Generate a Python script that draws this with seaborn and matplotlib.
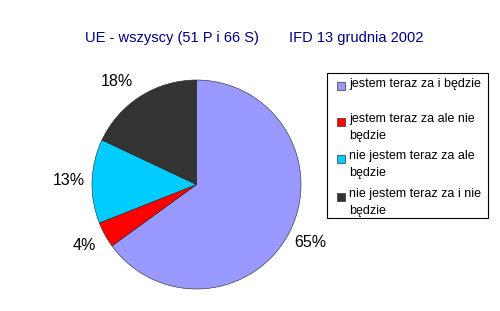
import matplotlib
matplotlib.use("Agg")
import matplotlib.pyplot as plt
from matplotlib.patches import Rectangle
import seaborn as sns

categories = ["jestem teraz za i będzie", "jestem teraz za ale nie\nbędzie",
              "nie jestem teraz za ale\nbędzie", "nie jestem teraz za i nie\nbędzie"]
values = [65, 4, 13, 18]
colors = ["#9999FF", "#FF0000", "#00CCFF", "#333333"]
title_left = "UE - wszyscy (51 P i 66 S)"
title_right = "IFD 13 grudnia 2002"

sns.set_theme(style="white")
plt.rcParams['font.family'] = ['Liberation Sans', 'DejaVu Sans']
palette = sns.color_palette(colors)

W, H = 500, 311
fig = plt.figure(figsize=(5, 3.11), dpi=100)
fig.patch.set_facecolor("white")

def fx(px): return px / W
def fy(py): return 1 - py / H

# pie axes: center (196.5,184.5), radius 104.5
cx, cy, r = 196.5, 184.5, 104.5
ax = fig.add_axes([fx(cx - r), fy(cy + r), 2 * r / W, 2 * r / H])
wedges, texts, autotexts = ax.pie(values, colors=palette, startangle=90, counterclock=False,
       autopct='%.0f%%', pctdistance=1.22,
       wedgeprops=dict(edgecolor="#222222", linewidth=0.4),
       textprops=dict(fontsize=11.5, color="black"))
# Excel-style placement of the last label (slightly further round)
autotexts[3].set_position((-0.76, 0.99))
ax.set_xlim(-1, 1)
ax.set_ylim(-1, 1)
ax.set_aspect("auto")
ax.axis("off")

fig.text(fx(85), fy(38), title_left, color="#000080", fontsize=10.5, ha="left", va="center")
fig.text(fx(289), fy(38), title_right, color="#000080", fontsize=10.5, ha="left", va="center")

# legend box
lx0, ly0, lx1, ly1 = 327, 73, 488, 218
fig.patches.append(Rectangle((fx(lx0), fy(ly1)), fx(lx1 - lx0), (ly1 - ly0) / H,
                             transform=fig.transFigure, facecolor="white",
                             edgecolor="black", linewidth=0.8, zorder=1))
ys = [86, 121.5, 158.5, 196.5]
for lab, col, y in zip(categories, palette, ys):
    fig.patches.append(Rectangle((fx(337), fy(y + 4)), fx(8), 8 / H,
                                 transform=fig.transFigure, facecolor=col,
                                 edgecolor="#333333", linewidth=0.5, zorder=2))
    fig.text(fx(349), fy(y - 8.5), lab, fontsize=9, ha="left", va="top",
             linespacing=1.55, color="black", zorder=3)

fig.savefig("out.png", dpi=100)
